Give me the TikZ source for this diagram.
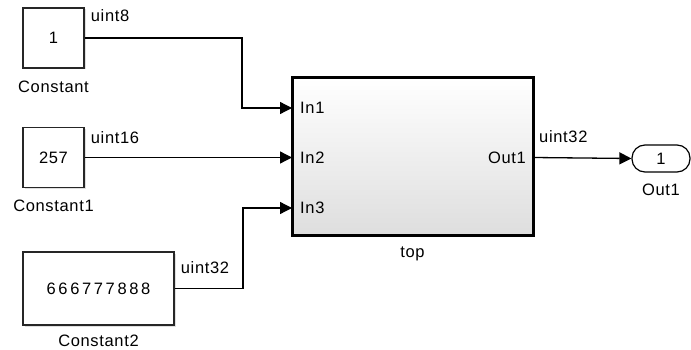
\documentclass[tikz,border=0pt]{standalone}
\usepackage{fontspec}
\setmainfont{Liberation Sans}[LetterSpace=4]
\usetikzlibrary{arrows.meta,shadows}
\begin{document}
\begin{tikzpicture}[x=1pt,y=-1pt,
  every node/.style={font=\fontsize{16.5}{19}\selectfont},
  blk/.style={draw=black!85,line width=1.4pt,fill=white,inner sep=0pt,
     drop shadow={shadow xshift=1.5pt,shadow yshift=-1.5pt,opacity=0.25}},
  sig/.style={line width=1.3pt,-{Triangle[length=12pt,width=12pt]}},
  lab/.style={inner sep=0pt}]
\useasboundingbox (0,0) rectangle (691,350);
% Constant blocks
\node[blk,minimum width=61pt,minimum height=60pt] (c0) at (53.5,38) {1};
\node[lab,anchor=base] (c0l) at (c0.south) [yshift=-24pt] {Constant};
\node[blk,minimum width=61pt,minimum height=60pt] (c1) at (53.5,157.5) {257};
\node[lab,anchor=base] (c1l) at (c1.south) [yshift=-23pt] {Constant1};
\node[blk,minimum width=151pt,minimum height=73pt] (c2) at (98.5,288.5) {\addfontfeatures{LetterSpace=16}666777888};
\node[lab,anchor=base] (c2l) at (c2.south) [yshift=-21pt] {Constant2};
% top subsystem
\shade[top color=white,bottom color=black!13,
  drop shadow={shadow xshift=2pt,shadow yshift=-2pt,opacity=0.25}] (292,78) rectangle (533,235);
\node[draw=black,line width=3pt,minimum width=241pt,minimum height=157pt,inner sep=0pt] (top) at (412.5,156.5) {};
\node[lab,anchor=base] (topl) at (top.south) [yshift=-21pt] {top};
\coordinate (in1) at (292,108);
\coordinate (in2) at (292,157.5);
\coordinate (in3) at (292,208);
\coordinate (out1) at (533,157.5);
\node[lab,anchor=west] (in1l) at (in1) [xshift=8pt] {In1};
\node[lab,anchor=west] (in2l) at (in2) [xshift=8pt] {In2};
\node[lab,anchor=west] (in3l) at (in3) [xshift=8pt] {In3};
\node[lab,anchor=east] (out1l) at (out1) [xshift=-7pt] {Out1};
% Outport
\node[draw=black,line width=1.2pt,rounded corners=13pt,fill=white,minimum width=58pt,minimum height=27pt,inner sep=0pt] (op) at (661,158.5) {1};
\node[lab,anchor=base] (opl) at (op.south) [yshift=-23pt] {Out1};
% signals
\draw[sig] (c0.east) -- (242,38) |- (in1);
\node[lab,anchor=base west] (s0) at (c0.east) [yshift=16pt,xshift=6pt] {uint8};
\draw[sig] (c1.east) -- (in2);
\node[lab,anchor=base west] (s1) at (c1.east) [yshift=14pt,xshift=6pt] {uint16};
\draw[sig] (c2.east) -- (243,288.5) |- (in3);
\node[lab,anchor=base west] (s2) at (c2.east) [yshift=15pt,xshift=6pt] {uint32};
\draw[sig] (out1) -- (op.west);
\node[lab,anchor=base west] (s3) at (out1) [yshift=15pt,xshift=6pt] {uint32};
\end{tikzpicture}
\end{document}
